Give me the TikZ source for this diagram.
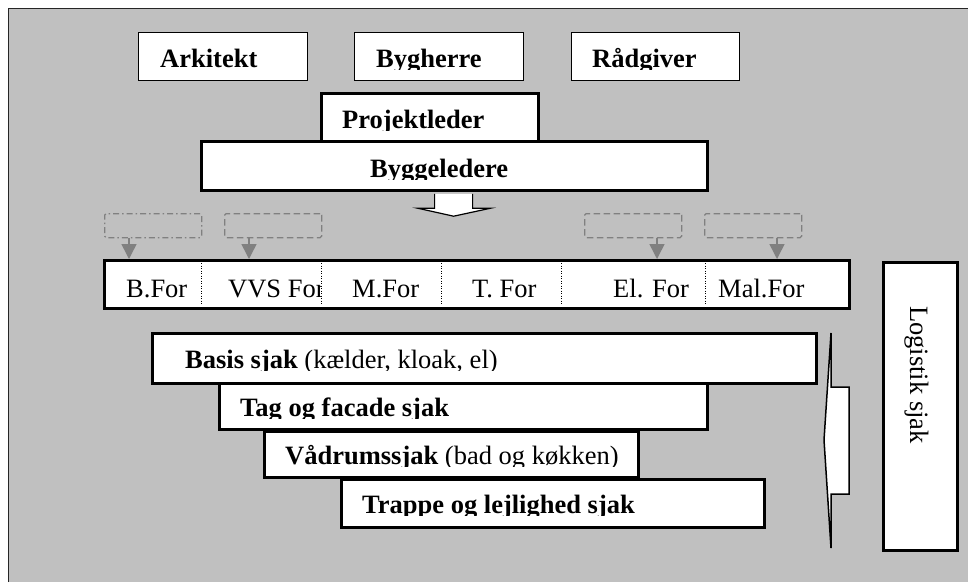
\documentclass[tikz,border=0pt]{standalone}
\usepackage{fontspec}
\setmainfont{Liberation Serif}
\usetikzlibrary{arrows.meta}
\definecolor{bg}{HTML}{C0C0C0}
\definecolor{dgray}{HTML}{808080}
\begin{document}
\begin{tikzpicture}[x=1pt,y=-1pt,
  box/.style={draw=black,fill=white,inner sep=0pt,anchor=north west},
  thinbox/.style={box,line width=1.3pt},
  thickbox/.style={box,line width=3.2pt},
  lbl/.style={anchor=base west,inner sep=0pt,font=\fontsize{26.5}{30}\selectfont},
  blbl/.style={anchor=base west,inner sep=0pt,font=\fontsize{26.5}{30}\selectfont\bfseries},
  ghost/.style={draw=dgray,line width=1.3pt,inner sep=0pt,anchor=north west,minimum width=97pt,minimum height=24pt,rounded corners=1.5pt},
  garrow/.style={draw=dgray,line width=1.5pt,-{Triangle[width=15pt,length=15pt]},dgray},
  blockarrow/.style={draw=black,line width=1.2pt,fill=white,line join=miter},
  divider/.style={draw=black,line width=1pt,dash pattern=on 1pt off 1.5pt}
]
\useasboundingbox (0,0) rectangle (968,582);
\fill[bg] (8.5,8.5) rectangle (968,582);
\draw[line width=1.5pt,black!85] (8.5,582) -- (8.5,8.5) -- (968,8.5);

% top boxes
\node[thinbox,minimum width=169pt,minimum height=48pt] (ark) at (138,32) {};
\node[thinbox,minimum width=169pt,minimum height=48pt] (byg) at (354,32) {};
\node[thinbox,minimum width=168pt,minimum height=48pt] (rad) at (571,32) {};
\begin{scope}
\clip (138,32) rectangle (740,69);
\node[blbl] (arkt) at (160,67) {Arkitekt};
\node[blbl] (bygt) at (376,67) {Bygherre};
\node[blbl] (radt) at (592,67) {Rådgiver};
\end{scope}

% Projektleder
\node[thickbox,minimum width=217pt,minimum height=48pt] (proj) at (320,92) {};
\begin{scope}
\clip (320,92) rectangle (537,130);
\node[blbl] (projt) at (342,128) {Projektleder};
\end{scope}

% Byggeledere
\node[thickbox,minimum width=506pt,minimum height=49pt] (bygl) at (200,140) {};
\begin{scope}
\clip (200,140) rectangle (706,179);
\node[blbl] (byglt) at (370,177) {Byggeledere};
\end{scope}
\draw[blockarrow] ([shift={(-20,1.6)}]bygl.south) -- ++(0,14.4) -- ++(-17,0)
  -- ++(36,8) -- ++(37,-8) -- ++(-18,0) -- ++(0,-14.4);

% ghost boxes
\node[ghost,dash pattern=on 6pt off 3pt on 1.5pt off 3pt] (g1) at (104,213) {};
\node[ghost,dash pattern=on 6.5pt off 3.5pt] (g2) at (224,213) {};
\node[ghost,dash pattern=on 6.5pt off 3.5pt] (g3) at (584,213) {};
\node[ghost,dash pattern=on 6.5pt off 3.5pt] (g4) at (704,213) {};

% For bar
\node[thickbox,minimum width=745pt,minimum height=48pt] (forbar) at (103,259) {};
\draw[garrow] ([xshift=25pt]g1.south west) -- ([xshift=25pt]g1.south west |- forbar.north);
\draw[garrow] ([xshift=25pt]g2.south west) -- ([xshift=25pt]g2.south west |- forbar.north);
\draw[garrow] ([xshift=73pt]g3.south west) -- ([xshift=73pt]g3.south west |- forbar.north);
\draw[garrow] ([xshift=73pt]g4.south west) -- ([xshift=73pt]g4.south west |- forbar.north);
\node[lbl] (bfor) at (126,297) {B.For};
\begin{scope}
\clip (201,259) rectangle (320.5,307);
\node[lbl] (vvs) at (228,297) {VVS For};
\end{scope}
\node[lbl] (mfor) at (352,297) {M.For};
\node[lbl] (tfor) at (472,297) {T. For};
\node[lbl] (elfor) at (613,297) {El. For};
\node[lbl] (malfor) at (718,297) {Mal.For};
\foreach \x in {201,321,441,561,705}
  \draw[divider] (\x,260.6) -- (\x,305.4);

% Logistik
\node[thickbox,minimum width=74pt,minimum height=288pt] (log) at (882,261) {};
\node[lbl,rotate=-90] (logt) at (910,306) {Logistik sjak};

% sjak bars
\node[thickbox,minimum width=664pt,minimum height=50pt] (basis) at (151,332) {};
\begin{scope}
\clip (151,332) rectangle (815,370);
\node[lbl] (basist) at (185,368) {\textbf{Basis sjak} (kælder, kloak, el)};
\end{scope}
\node[thickbox,minimum width=488pt,minimum height=46pt] (tag) at (218,382) {};
\begin{scope}
\clip (218,382) rectangle (706,418);
\node[blbl] (tagt) at (240,416) {Tag og facade sjak};
\end{scope}
\node[thickbox,minimum width=374pt,minimum height=46pt] (vad) at (263,430) {};
\begin{scope}
\clip (263,430) rectangle (637,466);
\node[lbl] (vadt) at (285,464) {\textbf{Vådrumssjak} (bad og køkken)};
\end{scope}
\node[thickbox,minimum width=423pt,minimum height=48pt] (trap) at (340,478) {};
\begin{scope}
\clip (340,478) rectangle (763,515);
\node[blbl] (trapt) at (362,513) {Trappe og lejlighed sjak};
\end{scope}

% left-pointing block arrow
\draw[blockarrow,line width=1.5pt] (824,440) -- (831,333) -- (831,387) -- (849,387)
  -- (849,494) -- (831,494) -- (831,548) -- cycle;
\end{tikzpicture}
\end{document}
